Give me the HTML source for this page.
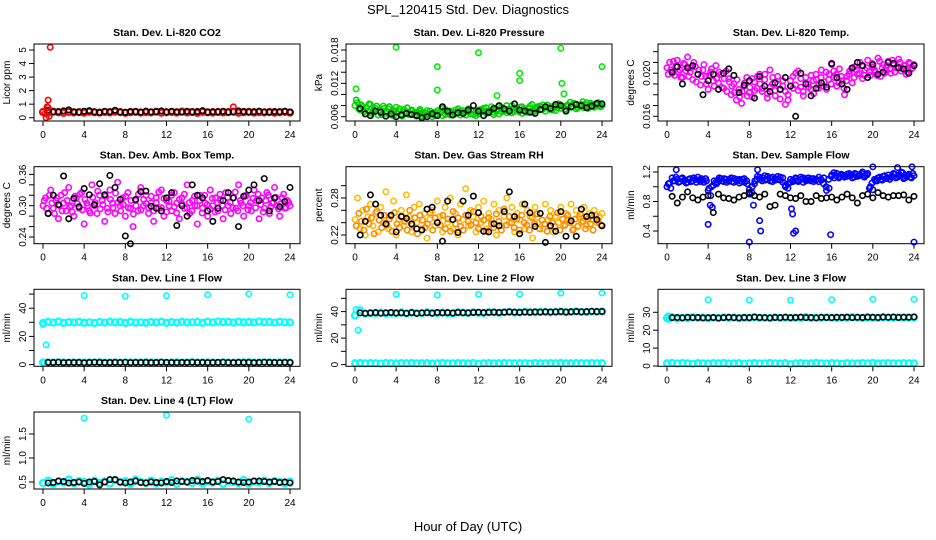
<!DOCTYPE html>
<html><head><meta charset="utf-8"><style>
html,body{margin:0;padding:0;background:#fff;}
svg{display:block;font-family:"Liberation Sans",sans-serif;}
</style></head><body>
<svg id="chart" width="936" height="540" viewBox="0 0 936 540">
<text x="468" y="14" font-size="13" text-anchor="middle">SPL_120415  Std. Dev. Diagnostics</text>
<text x="468" y="531" font-size="13" text-anchor="middle">Hour of Day (UTC)</text>
</svg>
<script>
// ---------- data ----------
const xTicks = [0,4,8,12,16,20,24];

const co2Red = [0.42,0.38,0.45,0.40,0.36,0.43,0.39,0.41,0.37,0.44,0.40,0.38,0.42,0.39,0.45,0.41,0.36,0.40,0.43,0.38,0.41,0.39,0.44,0.37,0.40,0.42,0.38,0.45,0.39,0.41,0.36,0.43,0.40,0.38,0.42,0.39,0.41,0.44,0.37,0.40,0.43,0.38,0.41,0.39,0.42,0.37,0.40,0.43,0.38];
const co2Black = [0.55,0.42,0.45,0.50,0.58,0.44,0.41,0.48,0.52,0.43,0.38,0.47,0.45,0.55,0.42,0.40,0.46,0.44,0.41,0.49,0.43,0.45,0.50,0.42,0.47,0.44,0.41,0.48,0.43,0.46,0.52,0.40,0.45,0.43,0.48,0.41,0.44,0.50,0.46,0.42,0.45,0.49,0.43,0.41,0.46,0.44,0.48,0.42];
const co2OutX = [0.7,0.5,0.4,0.3,0.6,0.5,0.2,18.5];
const co2OutY = [5.2,1.3,0.8,0.0,0.1,0.75,0.3,0.8];

const presGreen = [0.0080,0.0085,0.0072,0.0078,0.0065,0.0070,0.0082,0.0068,0.0075,0.0063,0.0071,0.0079,0.0066,0.0074,0.0069,0.0062,0.0077,0.0070,0.0065,0.0073,0.0068,0.0064,0.0072,0.0067,0.0061,0.0070,0.0066,0.0063,0.0071,0.0065,0.0060,0.0068,0.0064,0.0069,0.0062,0.0073,0.0066,0.0070,0.0064,0.0072,0.0067,0.0063,0.0071,0.0068,0.0074,0.0065,0.0070,0.0062,0.0072,0.0069,0.0075,0.0066,0.0071,0.0078,0.0068,0.0073,0.0065,0.0076,0.0070,0.0067,0.0074,0.0080,0.0069,0.0072,0.0077,0.0066,0.0075,0.0071,0.0079,0.0068,0.0074,0.0078,0.0072,0.0081,0.0070,0.0076,0.0073,0.0079,0.0071,0.0083,0.0075,0.0078,0.0072,0.0080,0.0077,0.0084,0.0074,0.0079,0.0082,0.0076,0.0085,0.0078,0.0081,0.0077,0.0083,0.0079,0.0080];
const presGreen2 = [0.0090,0.0074,0.0081,0.0069,0.0076,0.0083,0.0066,0.0072,0.0079,0.0070,0.0064,0.0075,0.0069,0.0078,0.0063,0.0071,0.0067,0.0074,0.0061,0.0069,0.0076,0.0066,0.0070,0.0063,0.0068,0.0073,0.0061,0.0067,0.0064,0.0070,0.0066,0.0062,0.0071,0.0067,0.0075,0.0064,0.0069,0.0063,0.0068,0.0065,0.0074,0.0070,0.0066,0.0063,0.0069,0.0072,0.0064,0.0068,0.0065,0.0073,0.0070,0.0076,0.0067,0.0072,0.0064,0.0070,0.0078,0.0069,0.0073,0.0080,0.0071,0.0067,0.0076,0.0073,0.0069,0.0078,0.0072,0.0068,0.0075,0.0082,0.0070,0.0076,0.0079,0.0073,0.0077,0.0081,0.0075,0.0072,0.0078,0.0076,0.0082,0.0079,0.0074,0.0081,0.0086,0.0078,0.0083,0.0076,0.0080,0.0087,0.0081,0.0075,0.0084,0.0079,0.0082,0.0085,0.0078];
const presBlack = [0.0075,0.0065,0.0062,0.0070,0.0068,0.0061,0.0065,0.0060,0.0063,0.0066,0.0064,0.0062,0.0058,0.0060,0.0065,0.0062,0.0078,0.0070,0.0063,0.0067,0.0066,0.0072,0.0080,0.0070,0.0062,0.0068,0.0075,0.0080,0.0074,0.0070,0.0083,0.0072,0.0070,0.0068,0.0066,0.0073,0.0078,0.0075,0.0082,0.0080,0.0070,0.0078,0.0082,0.0080,0.0076,0.0079,0.0084,0.0083];
const presOutX = [0.1,4,8,8,12,13.8,16,16,20,20.1,20.3,24];
const presOutY = [0.0110,0.0185,0.0150,0.0108,0.0175,0.0098,0.0138,0.0125,0.0183,0.0120,0.0101,0.0150];

const tempMag = [0.0205,0.0210,0.0200,0.0198,0.0212,0.0203,0.0196,0.0208,0.0215,0.0201,0.0194,0.0206,0.0199,0.0189,0.0203,0.0197,0.0185,0.0201,0.0193,0.0207,0.0191,0.0199,0.0186,0.0202,0.0195,0.0180,0.0190,0.0175,0.0185,0.0172,0.0188,0.0196,0.0182,0.0178,0.0192,0.0186,0.0199,0.0183,0.0194,0.0177,0.0203,0.0190,0.0184,0.0197,0.0176,0.0188,0.0171,0.0180,0.0193,0.0186,0.0200,0.0184,0.0195,0.0179,0.0191,0.0187,0.0198,0.0181,0.0194,0.0189,0.0203,0.0192,0.0185,0.0199,0.0208,0.0196,0.0188,0.0204,0.0193,0.0180,0.0197,0.0202,0.0191,0.0206,0.0199,0.0210,0.0195,0.0203,0.0212,0.0198,0.0206,0.0201,0.0214,0.0197,0.0208,0.0203,0.0211,0.0200,0.0209,0.0205,0.0213,0.0202,0.0207,0.0199,0.0210,0.0204,0.0208];
const tempMag2 = [0.0199,0.0203,0.0211,0.0206,0.0201,0.0196,0.0209,0.0202,0.0197,0.0205,0.0210,0.0192,0.0203,0.0197,0.0208,0.0190,0.0198,0.0204,0.0188,0.0195,0.0201,0.0187,0.0195,0.0183,0.0192,0.0188,0.0182,0.0194,0.0178,0.0183,0.0191,0.0179,0.0187,0.0195,0.0184,0.0197,0.0190,0.0186,0.0199,0.0181,0.0187,0.0196,0.0179,0.0190,0.0185,0.0193,0.0183,0.0175,0.0188,0.0197,0.0189,0.0202,0.0187,0.0183,0.0196,0.0190,0.0185,0.0193,0.0199,0.0186,0.0196,0.0188,0.0201,0.0194,0.0190,0.0202,0.0199,0.0191,0.0197,0.0186,0.0193,0.0199,0.0204,0.0196,0.0203,0.0200,0.0207,0.0198,0.0205,0.0201,0.0209,0.0203,0.0198,0.0211,0.0205,0.0200,0.0207,0.0204,0.0212,0.0201,0.0206,0.0210,0.0204,0.0207,0.0201,0.0209,0.0205];
const tempBlack = [0.0201,0.0206,0.0190,0.0205,0.0207,0.0199,0.0180,0.0193,0.0199,0.0185,0.0200,0.0204,0.0198,0.0182,0.0189,0.0193,0.0177,0.0197,0.0188,0.0183,0.0191,0.0185,0.0196,0.0188,0.0160,0.0200,0.0190,0.0179,0.0186,0.0191,0.0187,0.0209,0.0196,0.0190,0.0185,0.0205,0.0210,0.0207,0.0196,0.0208,0.0199,0.0201,0.0210,0.0209,0.0205,0.0204,0.0200,0.0207];

const ambMag = [0.300,0.315,0.285,0.330,0.295,0.310,0.275,0.320,0.305,0.290,0.335,0.300,0.280,0.315,0.295,0.325,0.265,0.305,0.290,0.340,0.300,0.285,0.320,0.310,0.270,0.295,0.330,0.305,0.285,0.345,0.300,0.315,0.280,0.325,0.295,0.260,0.310,0.290,0.335,0.300,0.320,0.285,0.305,0.270,0.315,0.295,0.330,0.280,0.310,0.300,0.290,0.325,0.305,0.275,0.315,0.295,0.340,0.285,0.310,0.300,0.265,0.320,0.295,0.305,0.280,0.330,0.300,0.315,0.290,0.310,0.275,0.325,0.300,0.285,0.315,0.295,0.340,0.305,0.280,0.320,0.300,0.290,0.330,0.310,0.275,0.315,0.295,0.325,0.285,0.305,0.335,0.300,0.280,0.315,0.295,0.310,0.300];
const ambMag2 = [0.310,0.295,0.320,0.305,0.285,0.315,0.300,0.290,0.325,0.310,0.298,0.288,0.318,0.304,0.322,0.292,0.312,0.300,0.286,0.316,0.306,0.328,0.294,0.302,0.318,0.288,0.312,0.296,0.324,0.306,0.290,0.302,0.318,0.296,0.310,0.284,0.300,0.322,0.292,0.312,0.304,0.296,0.318,0.290,0.306,0.326,0.296,0.314,0.288,0.308,0.320,0.298,0.286,0.312,0.304,0.322,0.296,0.306,0.290,0.318,0.300,0.310,0.286,0.320,0.302,0.294,0.314,0.288,0.306,0.322,0.300,0.292,0.316,0.306,0.296,0.326,0.290,0.310,0.300,0.318,0.292,0.306,0.314,0.296,0.322,0.302,0.288,0.310,0.320,0.298,0.306,0.316,0.294,0.304,0.322,0.296,0.306];
const ambBlack = [0.285,0.320,0.302,0.357,0.275,0.314,0.298,0.333,0.321,0.302,0.342,0.321,0.358,0.335,0.312,0.242,0.227,0.312,0.327,0.328,0.299,0.295,0.290,0.315,0.325,0.262,0.300,0.280,0.340,0.320,0.315,0.290,0.270,0.295,0.310,0.325,0.315,0.260,0.318,0.330,0.340,0.310,0.352,0.290,0.315,0.298,0.308,0.335];

const rhOrange = [0.245,0.280,0.230,0.260,0.220,0.250,0.270,0.235,0.255,0.225,0.265,0.240,0.290,0.230,0.250,0.275,0.220,0.245,0.260,0.235,0.285,0.250,0.225,0.265,0.240,0.270,0.230,0.255,0.215,0.245,0.260,0.235,0.275,0.250,0.225,0.265,0.240,0.280,0.230,0.255,0.220,0.270,0.245,0.295,0.235,0.260,0.250,0.225,0.265,0.240,0.275,0.230,0.255,0.245,0.270,0.220,0.260,0.235,0.250,0.280,0.240,0.265,0.225,0.255,0.245,0.270,0.230,0.260,0.250,0.215,0.265,0.240,0.255,0.230,0.270,0.245,0.260,0.225,0.250,0.240,0.265,0.235,0.255,0.245,0.270,0.230,0.260,0.250,0.240,0.265,0.235,0.255,0.245,0.260,0.240,0.250,0.255];
const rhOrange2 = [0.235,0.255,0.242,0.228,0.262,0.238,0.248,0.222,0.258,0.244,0.232,0.252,0.236,0.246,0.226,0.256,0.238,0.232,0.250,0.242,0.228,0.260,0.236,0.248,0.222,0.252,0.244,0.232,0.238,0.256,0.228,0.248,0.240,0.236,0.252,0.230,0.246,0.226,0.258,0.238,0.248,0.234,0.228,0.252,0.242,0.236,0.258,0.240,0.230,0.250,0.244,0.226,0.248,0.238,0.232,0.254,0.242,0.228,0.262,0.236,0.250,0.240,0.232,0.246,0.228,0.252,0.240,0.236,0.228,0.248,0.238,0.254,0.230,0.244,0.238,0.226,0.250,0.240,0.234,0.256,0.228,0.246,0.236,0.252,0.240,0.228,0.246,0.234,0.254,0.242,0.230,0.246,0.238,0.228,0.252,0.242,0.236];
const rhBlack = [0.220,0.242,0.285,0.270,0.252,0.238,0.252,0.225,0.250,0.247,0.238,0.230,0.228,0.262,0.265,0.240,0.210,0.275,0.245,0.224,0.275,0.252,0.283,0.256,0.226,0.225,0.238,0.235,0.258,0.290,0.250,0.222,0.270,0.256,0.234,0.255,0.208,0.235,0.226,0.258,0.218,0.243,0.218,0.262,0.250,0.252,0.245,0.235];

const flowBlue = [1.00,1.05,1.12,1.08,1.10,1.07,1.12,1.09,1.06,1.11,1.08,1.10,1.13,1.07,1.09,1.11,0.95,0.88,1.02,1.06,1.09,1.11,1.07,1.10,1.08,1.12,1.06,1.09,1.10,1.07,1.11,1.08,0.96,0.92,1.04,1.10,1.13,1.08,1.15,1.10,1.12,1.07,1.11,1.14,1.09,1.12,1.02,0.98,1.06,1.09,1.11,1.07,1.10,1.12,1.08,1.09,1.11,1.07,1.10,1.13,1.09,1.12,0.95,0.98,1.16,1.12,1.18,1.14,1.16,1.13,1.17,1.15,1.12,1.18,1.14,1.16,1.20,1.15,1.18,1.00,0.96,1.08,1.12,1.10,1.14,1.11,1.16,1.13,1.18,1.12,1.15,1.20,1.11,1.14,1.17,1.12,1.15];
const flowBlue2 = [1.04,0.98,1.08,1.13,1.06,1.11,1.08,1.05,1.10,1.07,1.12,1.06,1.09,1.11,1.06,1.08,0.98,1.00,1.08,1.04,1.12,1.08,1.11,1.06,1.10,1.07,1.11,1.08,1.05,1.10,1.06,1.04,0.90,1.00,1.08,1.14,1.10,1.12,1.09,1.14,1.08,1.13,1.09,1.10,1.13,1.06,1.00,1.04,1.10,1.07,1.12,1.09,1.13,1.06,1.10,1.12,1.08,1.11,1.09,1.07,1.10,1.04,1.00,1.10,1.14,1.19,1.15,1.12,1.17,1.15,1.14,1.18,1.16,1.13,1.17,1.15,1.18,1.13,1.16,0.98,1.05,1.10,1.08,1.13,1.09,1.15,1.12,1.10,1.14,1.17,1.13,1.16,1.19,1.12,1.15,1.13,1.18];
const flowBlack = [0.87,0.78,0.86,0.93,0.85,0.82,0.86,0.88,0.65,0.90,0.85,0.84,0.82,0.86,0.88,0.92,0.88,0.86,0.90,0.73,0.75,0.90,0.88,0.85,0.84,0.88,0.80,0.80,0.88,0.84,0.85,0.86,0.82,0.86,0.90,0.85,0.78,0.88,0.90,0.85,0.92,0.88,0.86,0.88,0.88,0.89,0.82,0.87];
const flowOutX = [4,4.2,4.4,8,8.4,9,9.1,12.1,12.2,12.3,12.5,15.9,24,0.9,8.8,20,22.4,23.8];
const flowOutY = [0.49,0.75,0.72,0.25,0.75,0.54,0.40,0.70,0.63,0.37,0.40,0.35,0.25,1.23,1.23,1.27,1.26,1.27];

const l1High = [29.5,30.2,29.8,30.5,29.6,30.1,29.9,30.3,29.7,30.0,29.5,30.2,29.8,30.4,29.9,30.1,29.6,30.3,29.8,30.0,29.7,30.2,29.9,30.4,29.6,30.1,29.8,30.3,29.9,30.0,30.2,29.7,30.4,29.9,30.6,30.1,30.3,29.8,30.5,30.0,30.2,29.9,30.6,30.1,30.3,29.8,30.4,30.0,29.9];
const l1Low = [1.5,1.6,1.4,1.7,1.5,1.3,1.6,1.5,1.4,1.6,1.5,1.7,1.4,1.5,1.6,1.3,1.5,1.6,1.4,1.5,1.7,1.5,1.4,1.6,1.0,1.5,1.6,1.4,1.5,1.7,1.5,1.4,1.6,1.5,1.3,1.6,1.5,1.4,1.6,1.5,1.7,1.4,1.5,1.6,1.5,1.4,1.6,1.5,1.5];
const l1Black = [1.6,1.5,1.7,1.4,1.6,1.5,1.6,1.3,1.5,1.7,1.6,1.4,1.5,1.6,1.5,1.7,1.4,1.6,1.5,1.6,1.4,1.5,1.7,1.6,1.5,1.4,1.6,1.5,1.7,1.5,1.6,1.4,1.5,1.6,1.7,1.5,1.4,1.6,1.5,1.6,1.4,1.5,1.7,1.6,1.5,1.4,1.6,1.5];
const l1OutX = [4,8,12,16,20,24,0.3,0.0,0.1];
const l1OutY = [49,48.5,48.8,49.5,50.2,49.5,14,28.5,1.5];

const l2High = [37.0,41.0,38.5,39.0,38.8,39.3,38.6,39.1,38.9,39.4,38.7,39.2,39.0,38.8,39.5,39.1,38.9,39.3,39.0,38.7,39.4,39.2,39.0,39.5,39.1,38.9,39.6,39.3,39.1,39.5,39.7,39.2,39.4,39.8,39.5,39.3,39.9,39.6,39.4,39.8,40.0,39.5,39.7,40.1,39.8,39.6,40.0,39.9,40.1];
const l2Low = [1.0,1.2,0.9,1.1,1.0,0.8,1.2,1.0,0.9,1.1,1.0,1.2,0.9,1.0,1.1,0.8,1.0,1.2,0.9,1.0,1.1,1.0,0.9,1.2,0.5,1.0,1.1,0.9,1.0,1.2,1.0,0.9,1.1,1.0,0.8,1.2,1.0,0.9,1.1,1.0,1.2,0.9,1.0,1.1,1.0,0.9,1.1,1.0,1.0];
const l2Black = [39.0,38.7,38.9,39.2,38.8,39.1,39.3,38.9,39.0,38.7,39.2,38.6,39.0,39.1,38.8,39.3,39.0,39.2,38.9,39.4,39.1,39.0,39.3,39.5,39.2,39.4,39.6,39.3,39.5,39.8,39.6,39.4,39.7,39.5,39.8,39.6,39.9,39.7,39.8,40.0,39.7,39.9,40.1,39.8,40.0,40.2,40.0,40.1];
const l2OutX = [4,8,12,16,20,24,0.3,0.1,0.0];
const l2OutY = [53,52.5,53,53.2,54,54,26,41.5,37];

const l3High = [26.8,27.3,26.5,27.0,26.7,27.2,26.9,27.1,26.6,27.0,26.8,27.2,26.9,27.1,26.7,27.0,26.8,27.3,26.9,27.0,26.7,27.2,26.9,27.1,26.8,27.0,26.9,27.3,26.8,27.1,26.9,27.2,27.0,26.8,27.1,26.9,27.3,27.0,26.8,27.2,27.0,26.9,27.3,27.1,26.9,27.2,27.0,27.1,27.2];
const l3Low = [1.5,1.7,1.4,1.6,1.5,1.3,1.6,1.5,1.4,1.6,1.5,1.7,1.4,1.5,1.6,1.3,1.5,1.6,1.4,1.5,1.7,1.5,1.4,1.6,1.0,1.5,1.6,1.4,1.5,1.7,1.5,1.4,1.6,1.5,1.3,1.6,1.5,1.4,1.6,1.5,1.7,1.4,1.5,1.6,1.5,1.4,1.6,1.5,1.5];
const l3Black = [27.0,27.1,26.9,27.2,27.0,27.1,26.9,27.0,27.1,26.8,27.0,27.2,27.0,26.9,27.1,27.0,27.3,27.1,27.0,26.9,27.1,27.0,27.2,27.0,27.1,27.3,27.0,27.1,26.9,27.2,27.1,27.0,27.2,27.1,27.3,27.0,27.2,27.1,27.3,27.2,27.1,27.3,27.2,27.4,27.1,27.3,27.2,27.4];
const l3OutX = [4,8,12,16,20,24,0.1,0.2];
const l3OutY = [37,36.8,36.7,37,37.3,37.3,28,26];

const l4Cyan = [0.48,0.53,0.46,0.51,0.49,0.55,0.47,0.52,0.50,0.45,0.53,0.48,0.51,0.47,0.54,0.49,0.52,0.46,0.55,0.50,0.48,0.53,0.47,0.51,0.49,0.54,0.46,0.52,0.50,0.48,0.55,0.47,0.51,0.49,0.53,0.46,0.52,0.50,0.48,0.54,0.47,0.51,0.49,0.53,0.48,0.52,0.50,0.47,0.51];
const l4Black = [0.48,0.49,0.52,0.51,0.48,0.49,0.50,0.47,0.50,0.51,0.44,0.50,0.55,0.55,0.50,0.48,0.50,0.52,0.49,0.48,0.50,0.49,0.48,0.51,0.49,0.52,0.51,0.50,0.53,0.52,0.51,0.53,0.50,0.51,0.55,0.53,0.52,0.50,0.49,0.50,0.52,0.52,0.51,0.50,0.51,0.49,0.50,0.48];
const l4OutX = [4,12,20];
const l4OutY = [1.83,1.89,1.81];

// ---------- layout ----------
const svg = document.getElementById('chart');
const NS = 'http://www.w3.org/2000/svg';
const colL = [34,346,658], rowT = [44,166.7,289.3,412], BW = 266, BH = 77;
const panels = [
 {name:'co2', title:'Stan. Dev. Li-820 CO2', yt:'Licor ppm', c:0, r:0, a:[0,73.7], b:[5,6], ticks:[0,1,2,3,4,5], labels:[0,1,2,3,4,5],
  series:[{v:co2Red,col:'#ff0000',dense:true},{v:co2Black,col:'#000',off:true},{x:co2OutX,v:co2OutY,col:'#ff0000'}]},
 {name:'pressure', title:'Stan. Dev. Li-820 Pressure', yt:'kPa', c:1, r:0, a:[0.006,72.7], b:[0.018,6], ticks:[0.006,0.008,0.010,0.012,0.014,0.016,0.018], labels:['0.006','0.012','0.018'],
  series:[{v:presGreen,col:'#00dd00'},{v:presGreen2,col:'#00cc00',half:true},{x:presOutX,v:presOutY,col:'#00ee00'},{v:presBlack,col:'#000',off:true}]},
 {name:'temp', title:'Stan. Dev. Li-820 Temp.', yt:'degrees C', c:2, r:0, a:[0.016,72.3], b:[0.020,29.2], ticks:[0.016,0.017,0.018,0.019,0.020,0.021,0.022], labels:['0.016','0.020'],
  series:[{v:tempMag,col:'#ff00ff'},{v:tempMag2,col:'#ff00ff',half:true},{v:tempBlack,col:'#000',off:true}]},
 {name:'ambtemp', title:'Stan. Dev. Amb. Box Temp.', yt:'degrees C', c:0, r:1, a:[0.24,70.3], b:[0.36,7.7], ticks:[0.24,0.26,0.28,0.30,0.32,0.34,0.36], labels:['0.24','0.30','0.36'],
  series:[{v:ambMag,col:'#ff00ff'},{v:ambMag2,col:'#ff00ff',half:true},{v:ambBlack,col:'#000',off:true}]},
 {name:'rh', title:'Stan. Dev. Gas Stream RH', yt:'percent', c:1, r:1, a:[0.22,68.3], b:[0.28,31.3], ticks:[0.22,0.24,0.26,0.28,0.30], labels:['0.22','0.28'],
  series:[{v:rhOrange,col:'#ffbb00'},{v:rhOrange2,col:'#ff8800',half:true},{v:rhBlack,col:'#000',off:true}]},
 {name:'sampleflow', title:'Stan. Dev. Sample Flow', yt:'ml/min', c:2, r:1, a:[0.4,64.3], b:[1.2,5.3], ticks:[0.4,0.6,0.8,1.0,1.2], labels:['0.4','0.8','1.2'],
  series:[{v:flowBlue,col:'#0000ff'},{v:flowBlue2,col:'#0000ff',half:true},{x:flowOutX,v:flowOutY,col:'#0000ff'},{v:flowBlack,col:'#000',off:true}]},
 {name:'line1', title:'Stan. Dev. Line 1 Flow', yt:'ml/min', c:0, r:2, a:[0,75.3], b:[40,18.9], ticks:[0,10,20,30,40,50], labels:[0,20,40],
  series:[{v:l1High,col:'#00ffff',dense:true},{v:l1Low,col:'#00ffff',dense:true},{x:l1OutX,v:l1OutY,col:'#00ffff'},{v:l1Black,col:'#000',off:true}]},
 {name:'line2', title:'Stan. Dev. Line 2 Flow', yt:'ml/min', c:1, r:2, a:[0,75.3], b:[40,22.3], ticks:[0,10,20,30,40,50], labels:[0,20,40],
  series:[{v:l2High,col:'#00ffff',dense:true},{v:l2Low,col:'#00ffff',dense:true},{x:l2OutX,v:l2OutY,col:'#00ffff'},{v:l2Black,col:'#000',off:true}]},
 {name:'line3', title:'Stan. Dev. Line 3 Flow', yt:'ml/min', c:2, r:2, a:[0,76.7], b:[30,23], ticks:[0,10,20,30], labels:[0,10,20,30],
  series:[{v:l3High,col:'#00ffff',dense:true},{v:l3Low,col:'#00ffff',dense:true},{x:l3OutX,v:l3OutY,col:'#00ffff'},{v:l3Black,col:'#000',off:true}]},
 {name:'line4', title:'Stan. Dev. Line 4 (LT) Flow', yt:'ml/min', c:0, r:3, a:[0.5,70], b:[1.5,22], ticks:[0.5,1.0,1.5], labels:['0.5','1.0','1.5'],
  series:[{v:l4Cyan,col:'#00ffff',dense:true},{x:l4OutX,v:l4OutY,col:'#00ffff'},{v:l4Black,col:'#000',off:true}]}
];

function mk(tag, attrs, parent){
  const e = document.createElementNS(NS, tag);
  for (const k in attrs) e.setAttribute(k, attrs[k]);
  (parent||svg).appendChild(e);
  return e;
}

panels.forEach(p => {
  const L = colL[p.c], T = rowT[p.r];
  const g = mk('g', {});
  
  
  const xs = t => L + 9 + t * 247 / 24;
  const ys = v => T + p.a[1] + (v - p.a[0]) * (p.b[1] - p.a[1]) / (p.b[0] - p.a[0]);
  const tt = mk('text', {x:L+BW/2, y:T-8, 'font-size':10.5, 'font-weight':'bold', 'text-anchor':'middle'}, g);
  tt.textContent = p.title;
  
  
  const yl = mk('text', {x:0, y:0, 'font-size':10, 'text-anchor':'middle', transform:`translate(${L-24},${T+BH/2}) rotate(-90)`}, g);
  yl.textContent = p.yt;
  
  
  xTicks.forEach(t => {
    const x = xs(t);
    const ln = mk('line', {x1:x, x2:x, y1:T+BH, y2:T+BH+5, stroke:'#000'}, g);
    
    
    const lb = mk('text', {x:x, y:T+BH+17, 'font-size':10, 'text-anchor':'middle'}, g);
    lb.textContent = t;
    
    
  });
  p.ticks.forEach(v => {
    const y = ys(v);
    const ln = mk('line', {x1:L-5, x2:L, y1:y, y2:y, stroke:'#000'}, g);
    
    
  });
  p.labels.forEach(v => {
    const y = ys(parseFloat(v));
    const lb = mk('text', {x:0, y:0, 'font-size':10, 'text-anchor':'middle', transform:`translate(${L-8},${y}) rotate(-90)`}, g);
    lb.textContent = v;
    
    
  });
  p.series.forEach(s => {
    const n = s.v.length;
    s.v.forEach((v, i) => {
      let t;
      if (s.x) t = s.x[i];
      else if (s.off) t = 0.5 + i * 23.5 / (n - 1);
      else if (s.half) t = (i + 0.5) * 24 / n;
      else t = i * 24 / (n - 1);
      const c = mk('circle', {cx:xs(t), cy:ys(v), r:s.dense ? 3 : 2.7, fill:'none', stroke:s.col, 'stroke-width':s.dense ? 2.2 : 1.6}, g);
      
      
    });
  });
  const bx = mk('rect', {x:L, y:T, width:BW, height:BH, fill:'none', stroke:'#000', 'stroke-width':1}, g);
  
  
});
</script>
</body></html>
